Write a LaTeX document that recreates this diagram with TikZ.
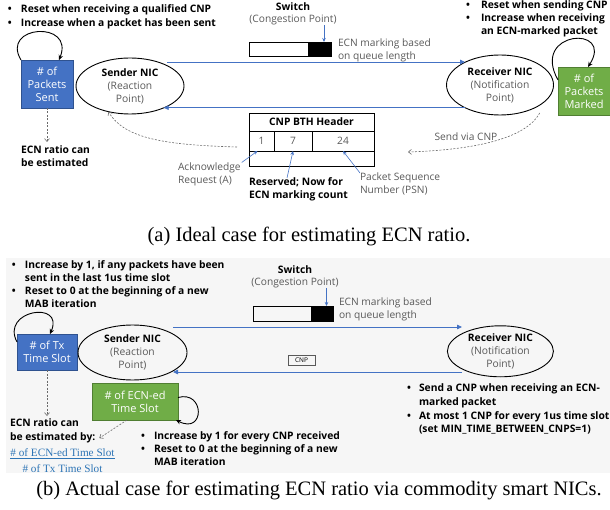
\documentclass[tikz,border=0pt]{standalone}
\usepackage{fontspec}
\setmainfont{Liberation Serif}
\newfontfamily\dsans{Open Sans}
\usetikzlibrary{arrows.meta,shapes.geometric}
\definecolor{boxblue}{HTML}{4472C4}
\definecolor{boxblueb}{HTML}{2F528F}
\definecolor{boxgreen}{HTML}{70AD47}
\definecolor{boxgreenb}{HTML}{507E32}
\definecolor{txtgray}{HTML}{595959}
\definecolor{linkblue}{HTML}{4472C4}
\definecolor{fracblue}{HTML}{2E75B6}
\definecolor{panelbg}{HTML}{F6F6F6}
\definecolor{dashgray}{HTML}{6A6A6A}
\newcommand\mybul[1][13pt]{\makebox[#1][l]{\textbullet}}
\begin{document}
\begin{tikzpicture}[x=1pt,y=-1pt,
  every node/.style={inner sep=0pt, outer sep=0pt},
  tx/.style={font=\dsans\fontsize{10.2}{13}\selectfont, align=left},
  btx/.style={font=\dsans\bfseries\fontsize{10.3}{13}\selectfont, align=left},
  gtx/.style={tx, text=txtgray},
  nic/.style={ellipse, draw, line width=0.9pt, minimum width=108pt, minimum height=56pt, align=center, font=\dsans\fontsize{10.3}{13}\selectfont},
  cntbox/.style={draw, line width=0.6pt, text=white, align=center, font=\dsans\fontsize{11}{13}\selectfont},
  bluebox/.style={cntbox, fill=boxblue, draw=boxblueb},
  greenbox/.style={cntbox, fill=boxgreen, draw=boxgreenb},
  link/.style={draw=linkblue, line width=0.8pt, -{Triangle[length=5pt,width=4.5pt]}},
  ptr/.style={draw=linkblue, line width=0.6pt, -{Stealth[length=4pt,width=3.5pt]}},
  dsh/.style={draw=dashgray, line width=0.6pt, dash pattern=on 2pt off 1.5pt, -{Straight Barb[length=3pt,width=5pt]}},
  loopln/.style={draw=black, line width=0.9pt, -{Stealth[length=5pt,width=4.5pt]}},
  cell/.style={draw, line width=0.8pt, anchor=north west},
  capt/.style={font=\fontsize{20.5}{24}\selectfont},
  frac/.style={font=\fontsize{11.2}{13}\selectfont, text=fracblue}
]
\useasboundingbox (0,0) rectangle (610,510);

% ---------------- (a) ----------------
\node[btx, font=\dsans\bfseries\fontsize{10.3}{14}\selectfont, anchor=north west] (bulA) at (8,4.5) {\mybul Reset when receiving a qualified CNP\\ \mybul Increase when a packet has been sent};
\node[bluebox, minimum width=52pt, minimum height=48pt] (bA) at (47,84) {\# of\\Packets\\Sent};
\node[nic] (sndA) at (130,86) {\textbf{Sender NIC}\\{\color{txtgray}(Reaction}\\{\color{txtgray}Point)}};
\node[nic, minimum width=107pt, minimum height=60pt] (rcvA) at (500,85) {\textbf{Receiver NIC}\\{\color{txtgray}(Notification}\\{\color{txtgray}Point)}};
\node[greenbox, minimum width=52pt, minimum height=48pt] (gA) at (584,91) {\# of\\Packets\\Marked};
\node[btx, anchor=north west] (bulA2) at (466,1) {\mybul[15pt]Reset when sending CNP\\ \mybul[15pt]Increase when receiving\\ \hspace*{15pt}an ECN-marked packet};

\draw[loopln] (bA.north west) .. controls (0,25) and (75,20) .. ([xshift=12pt]bA.north);
\draw[loopln] ([yshift=11pt]gA.west) .. controls (530,30) and (615,25) .. ([xshift=4pt]gA.north);

\node[btx] (swA) at (293,7) {Switch};
\node[gtx] (cpA) at (293,20) {(Congestion Point)};
\node[draw, line width=0.8pt, minimum width=82pt, minimum height=14pt] (qA) at (290,49) {};
\node[draw, fill=black, line width=0.8pt, minimum width=23pt, minimum height=14pt, anchor=east] (qkA) at (qA.east) {};
\draw[ptr] ([xshift=4.5pt]qkA.north |- cpA.south) -- ([xshift=4.5pt]qkA.north);
\node[gtx, anchor=north west] (ecnA) at (338,39) {ECN marking based\\on queue length};

\coordinate (a1) at (167,62);
\draw[link] (a1) -- (a1 -| rcvA.147);
\draw[link] (rcvA.213) -- (rcvA.213 -| sndA.327);

\node[draw, line width=0.8pt, minimum width=125pt, minimum height=18pt, btx] (thA) at (311.5,122) {CNP BTH Header};
\node[cell, gtx, minimum width=25pt, minimum height=20pt] (c1) at (thA.south west) {1};
\node[cell, gtx, minimum width=38pt, minimum height=20pt] (c2) at (c1.north east) {7};
\node[cell, gtx, minimum width=62pt, minimum height=20pt] (c3) at (c2.north east) {24};
\node[cell, minimum width=125pt, minimum height=15pt] (tbA) at (c1.south west) {};

\node[gtx, anchor=north west] (ackA) at (178,162.5) {Acknowledge\\Request (A)};
\draw[ptr] ([xshift=1pt]ackA.north east) -- ([xshift=-4pt]c1.south);
\node[btx, anchor=north west] (resA) at (249,178) {Reserved; Now for\\ECN marking count};
\draw[ptr] ([xshift=38pt]resA.north west) -- (c2.south);
\node[gtx, anchor=north west] (psnA) at (360,173) {Packet Sequence\\Number (PSN)};
\draw[ptr] (psnA.north west) -- (c3.south);

\node[btx, anchor=north west] (ratA) at (21,146) {ECN ratio can\\be estimated};
\draw[dsh] (bA.south) -- ([yshift=4pt]bA.south |- ratA.north);
\draw[dsh] ([shift={(-12,-4)}]c1.south west) .. controls (170,145) and (125,140) .. (sndA.230);
\coordinate (svA) at (408,152);
\draw[dsh] ([shift={(10,3)}]rcvA.-40) .. controls (525,140) and (470,150) .. (svA);
\node[gtx] (svtA) at (466,137) {Send via CNP};

\node[capt] (capA) at (309,236) {(a) Ideal case for estimating ECN ratio.};

% ---------------- (b) ----------------
\fill[panelbg] (6,258) rectangle (610,473);
\node[btx, anchor=north west] (bulB) at (12,261) {\mybul Increase by 1, if any packets have been\\ \hspace*{13pt}sent in the last 1us time slot\\ \mybul Reset to 0 at the beginning of a new\\ \hspace*{13pt}MAB iteration};
\node[bluebox, minimum width=60pt, minimum height=36pt] (bB) at (47,352) {\# of Tx\\Time Slot};
\node[nic, minimum width=109pt, minimum height=55pt] (sndB) at (132.5,352.5) {\textbf{Sender NIC}\\{\color{txtgray}(Reaction}\\{\color{txtgray}Point)}};
\node[nic, minimum width=106pt, minimum height=51pt] (rcvB) at (500.4,351.3) {\textbf{Receiver NIC}\\{\color{txtgray}(Notification}\\{\color{txtgray}Point)}};
\node[greenbox, minimum width=86pt, minimum height=37pt] (gB) at (135,401.5) {\# of ECN-ed\\Time Slot};

\draw[loopln] ([yshift=-8pt]bB.north west) .. controls (0,310) and (65,300) .. ([xshift=3pt]bB.north);
\draw[loopln] ([yshift=4pt]gB.east) .. controls (205,390) and (205,435) .. ([xshift=-2pt]gB.south east);

\node[btx] (swB) at (295,270) {Switch};
\node[gtx] (cpB) at (295,283) {(Congestion Point)};
\node[draw, line width=0.8pt, minimum width=80pt, minimum height=15pt] (qB) at (293,313.5) {};
\node[draw, fill=black, line width=0.8pt, minimum width=22pt, minimum height=15pt, anchor=east] (qkB) at (qB.east) {};
\draw[ptr] ([xshift=4.5pt]qkB.north |- cpB.south) -- ([xshift=4.5pt]qkB.north);
\node[gtx, anchor=north west] (ecnB) at (339,298) {ECN marking based\\on queue length};

\coordinate (b1) at (173,327);
\coordinate (b1e) at (462,327);
\coordinate (b2) at (462,372);
\coordinate (b2e) at (173,372);
\draw[link] (b1) -- (b1e);
\draw[link] (b2) -- (b2e);
\node[draw=txtgray, line width=0.5pt, minimum width=27pt, minimum height=10pt, font=\dsans\fontsize{6.5}{7}\selectfont] (cnpB) at (301.5,360) {CNP};

\node[btx, font=\dsans\bfseries\fontsize{10.3}{13.7}\selectfont, anchor=north west] (bulB2) at (407,384) {\mybul[12pt]Send a CNP when receiving an ECN-\\ \hspace*{12pt}marked packet\\ \mybul[12pt]At most 1 CNP for every 1us time slot\\ \hspace*{12pt}(set MIN\_TIME\_BETWEEN\_CNPS=1)};
\node[btx, anchor=north west] (bulB3) at (141,432) {\mybul Increase by 1 for every CNP received\\ \mybul Reset to 0 at the beginning of a new\\ \hspace*{13pt}MAB iteration};

\node[btx, anchor=north west] (ratB1) at (10,419) {ECN ratio can};
\node[btx, anchor=north west] (ratB2) at (10,433) {be estimated by:};
\draw[dsh] (bB.south) -- ([yshift=3pt]bB.south |- ratB1.north);
\draw[dsh] ([xshift=-8pt]gB.south) -- ([xshift=4pt]ratB2.east);

\node[frac] (fnum) at (62.5,453) {\# of ECN-ed Time Slot};
\draw[fracblue, line width=0.8pt] ([yshift=-1.5pt]fnum.south west) -- ([yshift=-1.5pt]fnum.south east);
\node[frac] (fden) at (62.5,469) {\# of Tx Time Slot};

\node[capt] (capB) at (319,490) {(b) Actual case for estimating ECN ratio via commodity smart NICs.};
\end{tikzpicture}
\end{document}
